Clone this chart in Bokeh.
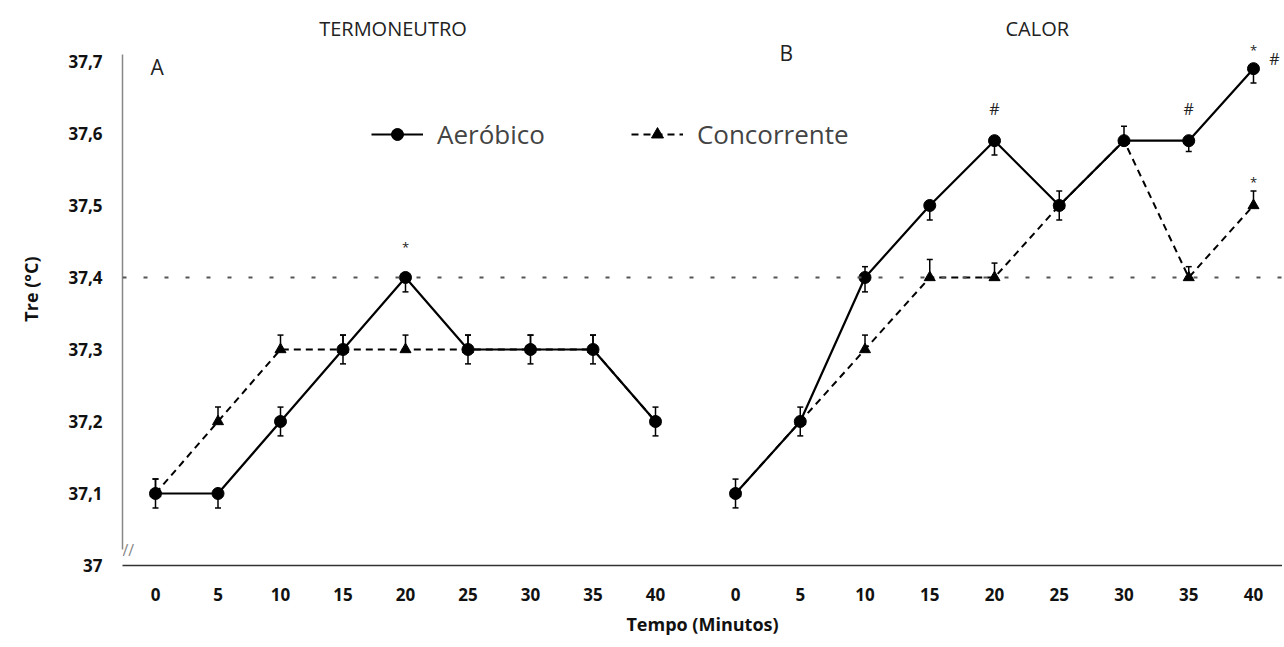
from bokeh.plotting import figure
from bokeh.models import (Range1d, FixedTicker, Span, Whisker, ColumnDataSource,
                          Legend, LegendItem, Label, TeeHead)
from bokeh.embed import file_html
from bokeh.resources import INLINE
from bokeh.core.properties import value

# ---------------- data ----------------
minutes = [0, 5, 10, 15, 20, 25, 30, 35, 40]
x_tick_labels = ["0", "5", "10", "15", "20", "25", "30", "35", "40"]
y_tick_vals = [37.0, 37.1, 37.2, 37.3, 37.4, 37.5, 37.6, 37.7]
y_tick_labels = ["37", "37,1", "37,2", "37,3", "37,4", "37,5", "37,6", "37,7"]

# Panel A - TERMONEUTRO
a_aer = [37.1, 37.1, 37.2, 37.3, 37.4, 37.3, 37.3, 37.3, 37.2]
a_con = [37.1, 37.2, 37.3, 37.3, 37.3, 37.3, 37.3, 37.3, 37.2]
a_aer_up = [0.02, 0.0, 0.02, 0.02, 0.0, 0.02, 0.02, 0.02, 0.02]
a_aer_dn = [0.02, 0.02, 0.02, 0.02, 0.02, 0.02, 0.02, 0.02, 0.02]
a_con_up = [0.02, 0.02, 0.02, 0.02, 0.02, 0.02, 0.02, 0.02, 0.0]
a_con_dn = [0.0, 0.0, 0.0, 0.0, 0.0, 0.0, 0.0, 0.0, 0.0]

# Panel B - CALOR
b_aer = [37.1, 37.2, 37.4, 37.5, 37.59, 37.5, 37.59, 37.59, 37.69]
b_con = [37.1, 37.2, 37.3, 37.4, 37.4, 37.5, 37.59, 37.4, 37.5]
b_aer_up = [0.02, 0.02, 0.015, 0.0, 0.0, 0.02, 0.02, 0.0, 0.0]
b_aer_dn = [0.02, 0.02, 0.02, 0.02, 0.02, 0.02, 0.0, 0.015, 0.02]
b_con_up = [0.0, 0.0, 0.02, 0.025, 0.02, 0.0, 0.0, 0.015, 0.02]
b_con_dn = [0.0, 0.0, 0.0, 0.0, 0.0, 0.0, 0.0, 0.0, 0.0]

# significance marks
a_sig_aer_t = [20]
a_sig_aer_txt = ["*"]
b_sig_aer_t = [20, 35, 40]
b_sig_aer_txt = ["#", "#", "*"]
b_sig_aer_side_t = [40]
b_sig_aer_side_txt = ["#"]
b_sig_con_t = [40]
b_sig_con_txt = ["*"]

# ---------------- figure ----------------
FONT = "Open Sans"
xa = Range1d(-2.64, 90.16)
xb = Range1d(-47.34, 42.24)
yr = Range1d(37.0, 37.768)

p = figure(width=1282, height=645, x_range=xa, y_range=yr,
           output_backend="svg", toolbar_location=None,
           min_border_left=122, min_border_right=0,
           min_border_top=12, min_border_bottom=80)
p.extra_x_ranges = {"B": xb}
p.xgrid.visible = False
p.ygrid.visible = False
p.outline_line_color = None
p.background_fill_color = "white"


def b_to_a(v):
    frac = (v - xb.start) / (xb.end - xb.start)
    return xa.start + frac * (xa.end - xa.start)


# x axis (both panels)
xt_a = [float(m) for m in minutes]
xt_b = [b_to_a(m) for m in minutes]
xax = p.xaxis[0]
xax.ticker = FixedTicker(ticks=xt_a + xt_b)
ov = {}
for v, l in zip(xt_a, x_tick_labels):
    ov[v] = l
for v, l in zip(xt_b, x_tick_labels):
    ov[v] = l
xax.major_label_overrides = ov
xax.axis_line_color = "#333333"
xax.axis_line_width = 1.5
xax.major_tick_out = 0
xax.major_tick_in = 0
xax.minor_tick_out = 0
xax.minor_tick_in = 0
xax.major_label_standoff = 22
xax.major_label_text_font = FONT
xax.major_label_text_font_style = "bold"
xax.major_label_text_font_size = "17px"
xax.major_label_text_color = "#111111"
xax.axis_label = "Tempo (Minutos)"
xax.axis_label_standoff = 8
xax.axis_label_text_font = FONT
xax.axis_label_text_font_style = "bold"
xax.axis_label_text_font_size = "18px"
xax.axis_label_text_color = "#111111"

# y axis
yax = p.yaxis[0]
yax.ticker = FixedTicker(ticks=y_tick_vals)
yax.major_label_overrides = dict(zip(y_tick_vals, y_tick_labels))
yax.bounds = (37.022, 37.71)
yax.axis_line_color = "#888888"
yax.axis_line_width = 1.5
yax.major_tick_out = 0
yax.major_tick_in = 0
yax.minor_tick_out = 0
yax.minor_tick_in = 0
yax.major_label_standoff = 20
yax.major_label_text_font = FONT
yax.major_label_text_font_style = "bold"
yax.major_label_text_font_size = "17px"
yax.major_label_text_color = "#111111"
yax.axis_label = "Tre (°C)"
yax.axis_label_standoff = 22
yax.axis_label_text_font = FONT
yax.axis_label_text_font_style = "bold"
yax.axis_label_text_font_size = "18px"
yax.axis_label_text_color = "#111111"

# reference dotted line at 37.4
p.add_layout(Span(location=37.4, dimension="width", line_color="#555555",
                  line_width=2, line_dash="4 17"))


def draw(xs, aer, con, aer_up, aer_dn, con_up, con_dn, rng):
    kw = {} if rng is None else {"x_range_name": rng}
    lc = p.line(xs, con, line_color="black", line_width=2, line_dash="7 5", **kw)
    sc = p.scatter(xs, con, marker="triangle", size=11, color="black", **kw)
    la = p.line(xs, aer, line_color="black", line_width=2.2, **kw)
    sa = p.scatter(xs, aer, marker="circle", size=12, color="black", **kw)
    for vals, up, dn in ((aer, aer_up, aer_dn), (con, con_up, con_dn)):
        src = ColumnDataSource(dict(
            x=xs,
            upper=[v + u for v, u in zip(vals, up)],
            lower=[v - d for v, d in zip(vals, dn)]))
        w = Whisker(source=src, base="x", upper="upper", lower="lower",
                    dimension="height", line_color="black", line_width=1.5,
                    upper_head=TeeHead(size=6, line_width=1.5, line_color="black"),
                    lower_head=TeeHead(size=6, line_width=1.5, line_color="black"),
                    **kw)
        p.add_layout(w)
    return la, sa, lc, sc


la, sa, lc, sc = draw(minutes, a_aer, a_con, a_aer_up, a_aer_dn, a_con_up, a_con_dn, None)
draw(minutes, b_aer, b_con, b_aer_up, b_aer_dn, b_con_up, b_con_dn, "B")


def sig(ts, txt, series, rng, xo, yo, size):
    kw = {} if rng is None else {"x_range_name": rng}
    ys = [series[minutes.index(t)] for t in ts]
    p.text(x=ts, y=ys, text=txt, x_offset=xo, y_offset=yo,
           text_align="center", text_baseline="middle",
           text_font=value(FONT), text_font_size=size, text_color="#222222", **kw)


sig(a_sig_aer_t, a_sig_aer_txt, a_aer, None, 0, -30, "13px")
sig(b_sig_aer_t[:2], b_sig_aer_txt[:2], b_aer, "B", 0, -32, "16px")
sig(b_sig_aer_t[2:], b_sig_aer_txt[2:], b_aer, "B", 0, -19, "13px")
sig(b_sig_aer_side_t, b_sig_aer_side_txt, b_aer, "B", 21, -10, "16px")
sig(b_sig_con_t, b_sig_con_txt, b_con, "B", 0, -23, "13px")

# panel titles and letters
p.add_layout(Label(x=19.0, y=37.746, text="TERMONEUTRO", text_align="center",
                   text_baseline="middle", text_font=FONT, text_font_size="20px",
                   text_color="#222222"))
p.add_layout(Label(x=23.3, y=37.746, x_range_name="B", text="CALOR", text_align="center",
                   text_baseline="middle", text_font=FONT, text_font_size="20px",
                   text_color="#222222"))
p.add_layout(Label(x=-0.4, y=37.693, text="A", text_align="left",
                   text_baseline="middle", text_font=FONT, text_font_size="21px",
                   text_color="#222222"))
p.add_layout(Label(x=3.4, y=37.712, x_range_name="B", text="B", text_align="left",
                   text_baseline="middle", text_font=FONT, text_font_size="21px",
                   text_color="#222222"))
# axis break mark
p.add_layout(Label(x=-2.64, y=37.022, text="//", text_align="left",
                   text_baseline="middle", text_font=FONT, text_font_size="16px",
                   text_color="#888888"))

legend = Legend(items=[LegendItem(label="Aeróbico", renderers=[la, sa]),
                       LegendItem(label="Concorrente", renderers=[lc, sc])],
                orientation="horizontal", location=(249, 413),
                glyph_width=52, glyph_height=30, label_standoff=14, spacing=86,
                padding=0, margin=0, border_line_color=None,
                background_fill_alpha=0,
                label_text_font=FONT, label_text_font_size="26px",
                label_text_color="#444444")
p.add_layout(legend)

open("out.html", "w").write(file_html(p, INLINE))
